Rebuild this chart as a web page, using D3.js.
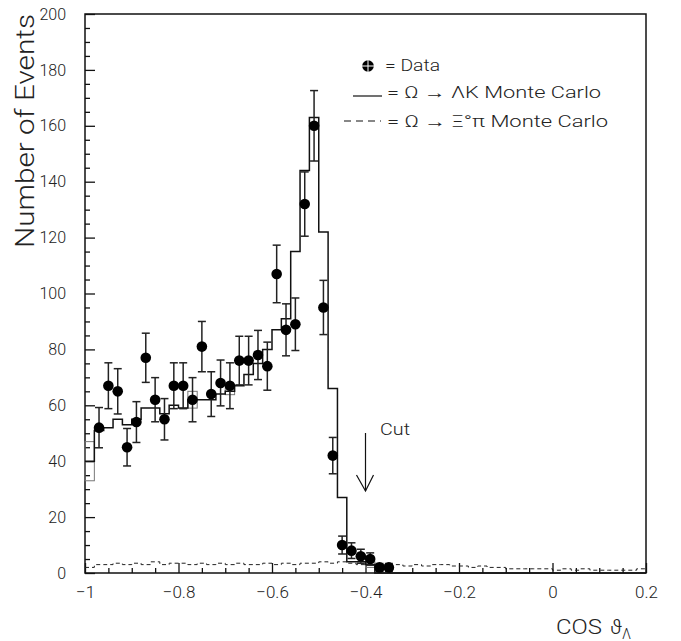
<!DOCTYPE html>
<html><head><meta charset="utf-8">
<script src="https://cdn.jsdelivr.net/npm/d3@7"></script>
<style>
body{margin:0;background:#fff}
text{font-family:Roboto,"Liberation Sans",Arial,sans-serif;font-weight:300;fill:#222}
</style>
</head><body>
<svg id="c" width="681" height="641"></svg>
<script>
// ---- data ----
const dataCenters = [-0.97,-0.95,-0.93,-0.91,-0.89,-0.87,-0.85,-0.83,-0.81,-0.79,-0.77,-0.75,-0.73,-0.71,-0.69,-0.67,-0.65,-0.63,-0.61,-0.59,-0.57,-0.55,-0.53,-0.51,-0.49,-0.47,-0.45,-0.43,-0.41,-0.39,-0.37,-0.35];
const dataCounts  = [52,67,65,45,54,77,62,55,67,67,62,81,64,68,67,76,76,78,74,107,87,89,132,160,95,42,10,8,6,5,2,2];
const dataErrors  = [7.2,8.2,8.1,6.7,7.3,8.8,7.9,7.4,8.2,8.2,7.9,9.0,8.0,8.2,8.2,8.7,8.7,8.8,8.6,10.3,9.3,9.4,11.5,12.6,9.7,6.5,3.2,2.8,2.5,2.2,1.4,1.4];

// MC Omega -> Lambda K (60 bins of 0.02 from -1 to 0.2)
const mcLambdaK = [40,51,52,55,53,55,59,59,57,60,59,62,62,62,64,65,67,71,75,80,87,91,115,144,163,122,66,27,4,4,3,0,
                   0,0,0,0,0,0,0,0,0,0,0,0,0,0,0,0,0,0,0,0,0,0,0,0,0,0,0,0];
const mcLambdaKErr = [7,0,0,0,0,0,0,0,0,0,0,3,0,0,0,1.2,0,0,0,0,0,0,0,0,0,0,0,0,0,0,1,0,
                   0,0,0,0,0,0,0,0,0,0,0,0,0,0,0,0,0,0,0,0,0,0,0,0,0,0,0,0];
// MC Omega -> Xi0 pi
const mcXiPi = [2,3,3,3.5,3,3.5,3,4,3,3.5,3.5,3,3.5,3,3.5,3,3.5,3,3,3.5,3,3.5,3,3.5,3.5,4,3.5,4,3.5,3,
                3,3,3,3,2.5,3,2.5,3,3,2.5,2.5,2,2.5,2,2,1.5,1.5,1.5,1.5,1.5,1,1.5,1,1.5,1,1,1,1,1,1.5];

const xMajorTicks = [-1,-0.8,-0.6,-0.4,-0.2,0,0.2];
const xTickLabels = ["\u22121","\u22120.8","\u22120.6","\u22120.4","\u22120.2","0","0.2"];
const yMajorTicks = [0,20,40,60,80,100,120,140,160,180,200];
const yTickLabels = ["0","20","40","60","80","100","120","140","160","180","200"];
const cutValue = -0.4;
const binLow = -1, binWidth = 0.02;

// ---- layout ----
const svg = d3.select("#c");
const x = d3.scaleLinear().domain([-1,0.2]).range([85,646]);
const y = d3.scaleLinear().domain([0,200]).range([573,14]);

// Frame
svg.append("rect").attr("x",x(-1)).attr("y",y(200)).attr("width",x(0.2)-x(-1)).attr("height",y(0)-y(200))
  .attr("fill","none").attr("stroke","#111").attr("stroke-width",1.5);

// Axes ticks
const xAxis = d3.axisBottom(x).tickValues(xMajorTicks).tickSize(-10).tickPadding(13)
  .tickFormat((d,i)=>xTickLabels[i]);
svg.append("g").attr("class","xa").attr("transform",`translate(0,${y(0)})`).call(xAxis);
const xMinor = d3.range(-1,0.2001,0.05).filter(v=>Math.abs(Math.round(v*5)-v*5)>1e-6);
svg.append("g").attr("transform",`translate(0,${y(0)})`)
  .call(d3.axisBottom(x).tickValues(xMinor).tickSize(-5).tickFormat(""));

const yAxis = d3.axisLeft(y).tickValues(yMajorTicks).tickSize(-10).tickPadding(19)
  .tickFormat((d,i)=>yTickLabels[i]);
svg.append("g").attr("class","ya").attr("transform",`translate(${x(-1)},0)`).call(yAxis);
const yMinor = d3.range(0,201,5).filter(v=>v%20!==0);
svg.append("g").attr("transform",`translate(${x(-1)},0)`)
  .call(d3.axisLeft(y).tickValues(yMinor).tickSize(-5).tickFormat(""));

svg.selectAll(".domain").remove();
svg.selectAll(".tick line").attr("stroke","#111").attr("stroke-width",1.3);
svg.selectAll(".tick text").attr("font-family","Roboto, Liberation Sans, Arial, sans-serif").attr("font-weight",300).attr("fill","#222");
svg.selectAll(".xa .tick text").attr("font-size",17);
svg.selectAll(".ya .tick text").attr("font-size",16);

// Histogram helpers
function stepPath(vals){
  let p = "";
  vals.forEach((v,i)=>{
    const x0 = x(binLow + i*binWidth), x1 = x(binLow + (i+1)*binWidth);
    p += (i===0 ? `M${x0},${y(v)}` : `L${x0},${y(v)}`) + `L${x1},${y(v)}`;
  });
  return p;
}

// MC error boxes (gray)
svg.append("g").selectAll("rect").data(mcLambdaK.map((v,i)=>({v,i,e:mcLambdaKErr[i]})).filter(d=>d.e>0))
  .join("rect")
  .attr("x",d=>x(binLow+d.i*binWidth)).attr("width",d=>x(binLow+(d.i+1)*binWidth)-x(binLow+d.i*binWidth))
  .attr("y",d=>y(d.v+d.e)).attr("height",d=>y(d.v-d.e)-y(d.v+d.e))
  .attr("fill","none").attr("stroke","#777").attr("stroke-width",1);

// MC Lambda K step
svg.append("path").attr("d", stepPath(mcLambdaK) + `L${x(0.2)},${y(0)}`)
  .attr("fill","none").attr("stroke","#111").attr("stroke-width",1.5);

// MC Xi pi dashed
svg.append("path").attr("d", stepPath(mcXiPi))
  .attr("fill","none").attr("stroke","#222").attr("stroke-width",1).attr("stroke-dasharray","4,3");

// Data error bars + points
const dg = svg.append("g");
dataCenters.forEach((c,i)=>{
  const cx = x(c), v = dataCounts[i], e = dataErrors[i];
  dg.append("line").attr("x1",cx).attr("x2",cx).attr("y1",y(v+e)).attr("y2",y(Math.max(0,v-e)))
    .attr("stroke","#222").attr("stroke-width",1.5);
  [v+e, Math.max(0,v-e)].forEach(t=>{
    dg.append("line").attr("x1",cx-4).attr("x2",cx+4).attr("y1",y(t)).attr("y2",y(t))
      .attr("stroke","#222").attr("stroke-width",1.5);
  });
});
dg.selectAll("circle").data(dataCenters).join("circle")
  .attr("cx",d=>x(d)).attr("cy",(d,i)=>y(dataCounts[i])).attr("r",5.3).attr("fill","#000");

// Cut arrow
const ax = x(cutValue);
svg.append("line").attr("x1",ax).attr("x2",ax).attr("y1",433).attr("y2",491).attr("stroke","#111").attr("stroke-width",1.2);
svg.append("path").attr("d",`M${ax-9},${475}L${ax},${491}L${ax+8},${475}`).attr("fill","none").attr("stroke","#111").attr("stroke-width",1.2);
svg.append("text").attr("x",380).attr("y",435).attr("font-size",17).attr("textLength",30).attr("lengthAdjust","spacingAndGlyphs").text("Cut");

// Legend
svg.append("circle").attr("cx",368).attr("cy",66).attr("r",5.8).attr("fill","#000");
svg.append("line").attr("x1",368).attr("x2",368).attr("y1",60).attr("y2",72).attr("stroke","#fff").attr("stroke-width",1);
svg.append("line").attr("x1",362).attr("x2",374).attr("y1",66).attr("y2",66).attr("stroke","#fff").attr("stroke-width",1);
svg.append("text").attr("x",385).attr("y",71).attr("font-size",16).attr("textLength",55).attr("lengthAdjust","spacingAndGlyphs").text("= Data");

svg.append("line").attr("x1",353).attr("x2",382).attr("y1",96).attr("y2",96).attr("stroke","#111").attr("stroke-width",1.2);
svg.append("text").attr("x",387).attr("y",98).attr("font-size",16).attr("textLength",214).attr("lengthAdjust","spacingAndGlyphs")
  .text("= \u03A9 \u2192 \u039BK Monte Carlo");

svg.append("line").attr("x1",344).attr("x2",381).attr("y1",121).attr("y2",121).attr("stroke","#111").attr("stroke-width",1.2).attr("stroke-dasharray","7,5");
svg.append("text").attr("x",387).attr("y",127).attr("font-size",16).attr("textLength",221).attr("lengthAdjust","spacingAndGlyphs")
  .text("= \u03A9 \u2192 \u039E\u00B0\u03C0 Monte Carlo");

// Axis titles
svg.append("text").attr("transform","translate(34,131) rotate(-90)").attr("text-anchor","middle")
  .attr("font-size",26).attr("textLength",234).attr("lengthAdjust","spacingAndGlyphs").text("Number of Events");
const xt = svg.append("text").attr("x",556).attr("y",634).attr("font-size",21);
xt.append("tspan").attr("textLength",46).attr("lengthAdjust","spacingAndGlyphs").text("COS");
xt.append("tspan").attr("dx",8).text("\u03D1");
xt.append("tspan").attr("font-size",14).attr("dy",5).text("\u039B");
</script>
</body></html>
